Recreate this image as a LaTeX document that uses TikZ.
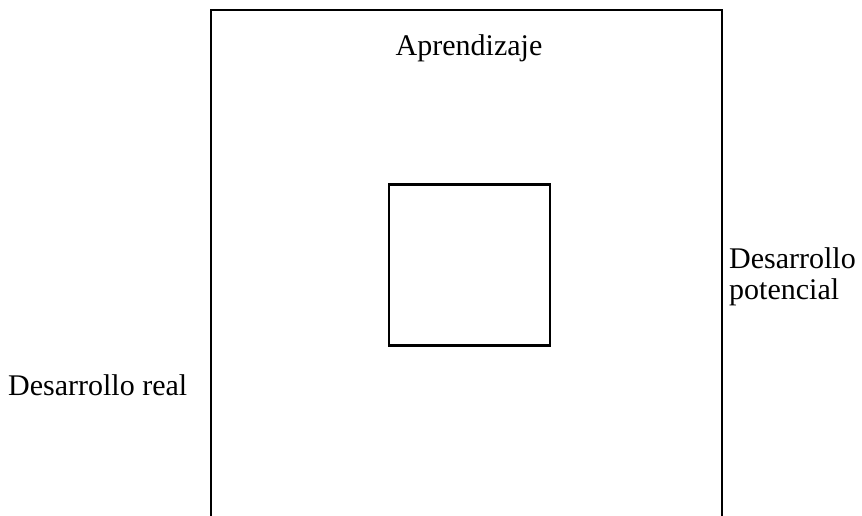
\documentclass[tikz,border=0pt]{standalone}
\usepackage{fontspec}
\setmainfont{Liberation Serif}
\usetikzlibrary{positioning}

\begin{document}
\begin{tikzpicture}[
    x=1pt, y=-1pt,
    frame/.style={draw, line width=2.5pt},
    label/.style={font=\fontsize{30}{34}\selectfont, inner sep=0pt}
]
\useasboundingbox (0,0) rectangle (862,515);
\clip (0,0) rectangle (862,515);
% outer zone, open at the bottom
\coordinate (BL) at (211,530);
\coordinate (TL) at (211,10);
\coordinate (TR) at (722,10);
\coordinate (BR) at (722,530);
\draw[frame] (BL) -- (TL) -- (TR) -- (BR);
% inner square
\node[frame, minimum size=161pt, inner sep=0pt] (inner) at (469.5,265) {};

\node[label] (apr) at (469,48) {Aprendizaje};
\node[label, anchor=north west, align=left] (pot) at (729,247) {Desarrollo\\[-3pt]potencial};
\node[label, anchor=west] (real) at (8,385) {Desarrollo real};
\end{tikzpicture}
\end{document}
